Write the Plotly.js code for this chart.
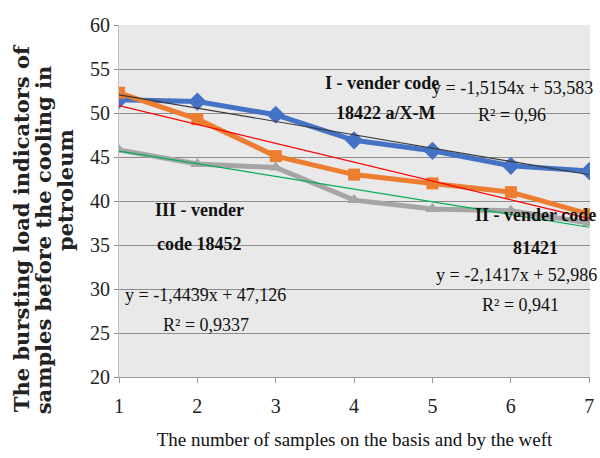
<!DOCTYPE html>
<html>
<head>
<meta charset="utf-8">
<script src="https://cdn.plot.ly/plotly-3.0.1.min.js"></script>
<style>html,body{margin:0;padding:0;background:#fff;}#chart{width:600px;height:458px;}</style>
</head>
<body>
<div id="chart"></div>
<script>
const samples = [1, 2, 3, 4, 5, 6, 7];
const seriesI = [51.5, 51.3, 49.8, 46.9, 45.7, 44.0, 43.4];
const seriesII = [52.3, 49.3, 45.1, 43.0, 42.0, 41.0, 38.5];
const seriesIII = [45.8, 44.2, 43.8, 40.1, 39.1, 38.9, 37.5];
const trendX = [1, 7];
const trendI = [52.07, 42.98];
const trendII = [50.84, 37.99];
const trendIII = [45.68, 37.02];
const yTicks = [20, 25, 30, 35, 40, 45, 50, 55, 60];
const yTitleLines = ['The bursting load indicators of', 'samples before the cooling in', 'petroleum'];

const serif = '"Liberation Serif"';
const wideSerif = '"DejaVu Serif"';

const traces = [
  {x: samples, y: seriesI, type: 'scatter', mode: 'lines+markers',
   line: {color: '#4472C4', width: 5}, marker: {symbol: 'diamond', size: 14, color: '#4472C4'}},
  {x: samples, y: seriesII, type: 'scatter', mode: 'lines+markers',
   line: {color: '#ED7D31', width: 5}, marker: {symbol: 'square', size: 12, color: '#ED7D31'}},
  {x: samples, y: seriesIII, type: 'scatter', mode: 'lines+markers',
   line: {color: '#A5A5A5', width: 5}, marker: {symbol: 'triangle-up', size: 12, color: '#A5A5A5'}},
  {x: trendX, y: trendI, type: 'scatter', mode: 'lines', line: {color: '#3a3a3a', width: 1.2}},
  {x: trendX, y: trendII, type: 'scatter', mode: 'lines', line: {color: '#ff0000', width: 1.2}},
  {x: trendX, y: trendIII, type: 'scatter', mode: 'lines', line: {color: '#00b050', width: 1.2}}
];

function ann(text, x, y, bold) {
  return {text: bold ? '<b>' + text + '</b>' : text, x: x, y: y, xref: 'x', yref: 'y',
    showarrow: false, xanchor: 'center', yanchor: 'middle',
    font: {family: serif, size: 18, color: '#111'}};
}

function yTitle(text, x, y) {
  return {text: '<b>' + text + '</b>', xref: 'paper', yref: 'paper', x: x, y: y,
    xanchor: 'center', yanchor: 'middle', textangle: -90, showarrow: false,
    font: {family: wideSerif, size: 21, color: '#222'}};
}

const annotations = [
  ann('I - vender code', 4.36, 53.4, true),
  ann('18422 a/X-M', 4.40, 50.0, true),
  ann('y = -1,5154x + 53,583', 6.02, 52.84, false),
  ann('R² = 0,96', 6.02, 49.77, false),
  ann('III - vender', 2.03, 38.98, true),
  ann('code 18452', 2.03, 35.11, true),
  ann('y = -1,4439x + 47,126', 2.11, 29.3, false),
  ann('R² = 0,9337', 2.11, 25.9, false),
  ann('II - vender code', 6.31, 38.4, true),
  ann('81421', 6.31, 34.66, true),
  ann('y = -2,1417x + 52,986', 6.07, 31.6, false),
  ann('R² = 0,941', 6.12, 28.2, false),
  yTitle(yTitleLines[0], -0.208, 0.423),
  yTitle(yTitleLines[1], -0.161, 0.389),
  yTitle(yTitleLines[2], -0.115, 0.531)
];

const layout = {
  width: 600, height: 458,
  margin: {l: 119, r: 10, t: 25, b: 81},
  paper_bgcolor: '#ffffff',
  plot_bgcolor: '#e9e9e9',
  showlegend: false,
  font: {family: serif},
  xaxis: {
    range: [1, 7.01], tickvals: samples, ticktext: samples.map(String),
    showgrid: false, zeroline: false,
    showline: true, linecolor: '#9a9a9a', linewidth: 1,
    ticks: 'outside', ticklen: 5, tickcolor: '#9a9a9a',
    ticklabelstandoff: 6,
    tickfont: {family: serif, size: 20, color: '#222'},
    title: {text: 'The number of samples on the basis and by the weft',
      font: {family: serif, size: 19, color: '#111'}, standoff: 16}
  },
  yaxis: {
    range: [20, 60], tickvals: yTicks, ticktext: yTicks.map(String),
    showgrid: true, gridcolor: '#8c8c8c', gridwidth: 1, zeroline: false,
    showline: true, linecolor: '#c0c0c0', linewidth: 1,
    ticks: 'outside', ticklen: 4, tickcolor: '#8c8c8c',
    tickfont: {family: serif, size: 20, color: '#222'}
  },
  annotations: annotations
};

Plotly.newPlot('chart', traces, layout, {displayModeBar: false, staticPlot: true});
</script>
</body>
</html>
